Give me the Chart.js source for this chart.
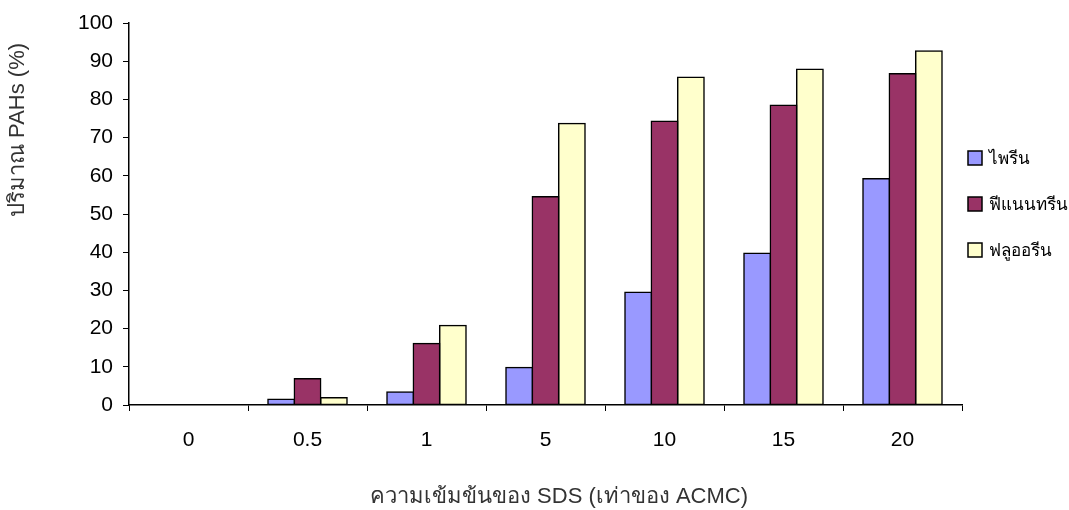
<!DOCTYPE html>
<html>
<head>
<meta charset="utf-8">
<script src="https://cdn.jsdelivr.net/npm/chart.js@4/dist/chart.umd.min.js"></script>
<style>
  html, body { margin: 0; padding: 0; background: #ffffff; }
  #wrap { width: 1069px; height: 510px; position: relative; }
</style>
</head>
<body>
<div id="wrap"><canvas id="c" width="1069" height="510"></canvas></div>
<script>
// SDS concentration (multiples of ACMC)
const categories = ['0', '0.5', '1', '5', '10', '15', '20'];

// Amount of PAHs (%) per compound
const pyrene       = [0, 1.5, 3.4, 9.8, 29.5, 39.7, 59.2];
const phenanthrene = [0, 6.9, 16.1, 54.5, 74.3, 78.5, 86.7];
const fluorene     = [0, 1.9, 20.8, 73.7, 85.8, 87.9, 92.7];

const seriesNames = ['ไพรีน', 'ฟีแนนทรีน', 'ฟลูออรีน'];
const yTicks = [0, 10, 20, 30, 40, 50, 60, 70, 80, 90, 100];

const xTitle = 'ความเข้มข้นของ SDS (เท่าของ ACMC)';
const yTitle = 'ปริมาณ PAHs (%)';

const FONT = '"Liberation Sans", Arial, "Noto Sans", sans-serif';

// Axis titles and side legend drawn on the canvas
const decorations = {
  id: 'decorations',
  afterDraw(chart) {
    const ctx = chart.ctx;
    ctx.save();
    // x title
    ctx.fillStyle = '#333333';
    ctx.font = '22px ' + FONT;
    ctx.textAlign = 'center';
    ctx.textBaseline = 'middle';
    ctx.fillText(xTitle, 559, 497);
    // y title
    ctx.translate(18, 130);
    ctx.rotate(-Math.PI / 2);
    ctx.fillText(yTitle, 0, 0);
    ctx.restore();

    // legend
    ctx.save();
    ctx.font = '17px ' + FONT;
    ctx.textAlign = 'left';
    ctx.textBaseline = 'middle';
    const ys = [158, 204, 250];
    chart.data.datasets.forEach((ds, i) => {
      const y = ys[i];
      ctx.fillStyle = ds.backgroundColor;
      ctx.fillRect(968, y - 7, 14, 14);
      ctx.strokeStyle = '#000000';
      ctx.lineWidth = 1.5;
      ctx.strokeRect(968, y - 7, 14, 14);
      ctx.fillStyle = '#000000';
      ctx.fillText(ds.label, 989, y + 1);
    });
    ctx.restore();
  }
};

const barStyle = {
  borderColor: '#000000',
  borderWidth: 1.5,
  borderSkipped: false,
  inflateAmount: 0.75,
  categoryPercentage: 0.665,
  barPercentage: 1.0
};

new Chart(document.getElementById('c'), {
  type: 'bar',
  data: {
    labels: categories,
    datasets: [
      Object.assign({ label: seriesNames[0], data: pyrene, backgroundColor: '#9999FF' }, barStyle),
      Object.assign({ label: seriesNames[1], data: phenanthrene, backgroundColor: '#993366' }, barStyle),
      Object.assign({ label: seriesNames[2], data: fluorene, backgroundColor: '#FFFFCC' }, barStyle)
    ]
  },
  options: {
    responsive: false,
    animation: false,
    layout: { padding: { left: 0, right: 107, top: 23, bottom: 0 } },
    plugins: {
      legend: { display: false },
      tooltip: { enabled: false }
    },
    scales: {
      x: {
        offset: true,
        grid: {
          offset: true,
          drawOnChartArea: false,
          drawTicks: true,
          tickLength: 6,
          color: '#000000',
          lineWidth: 1
        },
        border: { color: '#000000', width: 1.5 },
        ticks: {
          color: '#000000',
          font: { family: FONT, size: 21 },
          padding: 17
        },
        afterFit(scale) { scale.height = 105; }
      },
      y: {
        min: 0,
        max: 100,
        afterBuildTicks(scale) { scale.ticks = yTicks.map(v => ({ value: v })); },
        grid: {
          drawOnChartArea: false,
          drawTicks: true,
          tickLength: 6,
          color: '#000000',
          lineWidth: 1
        },
        border: { color: '#000000', width: 1.5 },
        ticks: {
          color: '#000000',
          font: { family: FONT, size: 21 },
          padding: 10
        },
        afterFit(scale) { scale.width = 129; }
      }
    }
  },
  plugins: [decorations]
});
</script>
</body>
</html>
